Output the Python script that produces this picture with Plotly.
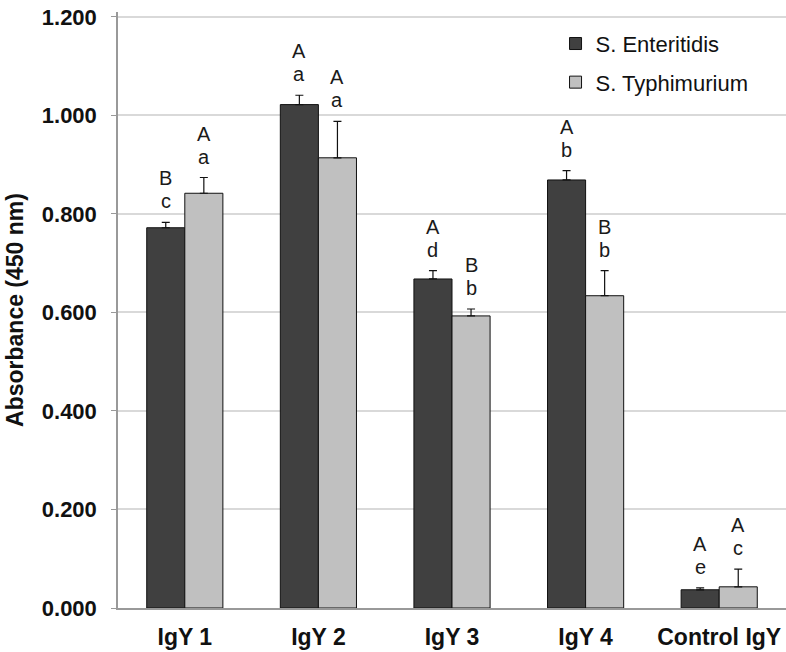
import plotly.graph_objects as go

categories = ["IgY 1", "IgY 2", "IgY 3", "IgY 4", "Control IgY"]
se_values = [0.772, 1.022, 0.668, 0.869, 0.037]
se_errors = [0.011, 0.019, 0.017, 0.019, 0.004]
st_values = [0.842, 0.914, 0.593, 0.634, 0.043]
st_errors = [0.032, 0.074, 0.014, 0.051, 0.036]
se_upper = ["B", "A", "A", "A", "A"]
se_lower = ["c", "a", "d", "b", "e"]
st_upper = ["A", "A", "B", "B", "A"]
st_lower = ["a", "a", "b", "b", "c"]
y_ticks = [0.0, 0.2, 0.4, 0.6, 0.8, 1.0, 1.2]

FONT = "Liberation Sans, Arial, sans-serif"
bargap = 0.43
half = (1 - bargap) / 4

fig = go.Figure()
fig.add_trace(go.Bar(
    x=categories, y=se_values, name="S. Enteritidis", legendgroup="se",
    marker=dict(color="#404040", line=dict(color="#111111", width=1)),
    error_y=dict(type="data", array=se_errors, symmetric=False,
                 arrayminus=[0]*len(se_errors), color="#111111", thickness=1.2, width=4),
))
fig.add_trace(go.Bar(
    x=categories, y=st_values, name="S. Typhimurium", legendgroup="st",
    marker=dict(color="#c0c0c0", line=dict(color="#111111", width=1)),
    error_y=dict(type="data", array=st_errors, symmetric=False,
                 arrayminus=[0]*len(st_errors), color="#111111", thickness=1.2, width=4),
))

annotations = []
for i in range(len(categories)):
    for vals, errs, up, lo, off in [
        (se_values, se_errors, se_upper, se_lower, -half),
        (st_values, st_errors, st_upper, st_lower, half),
    ]:
        top = vals[i] + errs[i]
        annotations.append(dict(x=i + off, y=top, xref="x", yref="y", text=lo[i],
                                showarrow=False, yanchor="bottom", yshift=9, borderpad=0,
                                font=dict(family=FONT, size=20, color="#1a1a1a")))
        annotations.append(dict(x=i + off, y=top, xref="x", yref="y", text=up[i],
                                showarrow=False, yanchor="bottom", yshift=32, borderpad=0,
                                font=dict(family=FONT, size=20, color="#1a1a1a")))

fig.update_layout(
    width=786, height=652,
    margin=dict(l=118, r=0, t=12, b=44),
    paper_bgcolor="white", plot_bgcolor="white",
    barmode="group", bargap=bargap, bargroupgap=0,
    font=dict(family=FONT, color="#111111"),
    showlegend=True,
    legend=dict(x=0.655, y=0.982, xanchor="left", yanchor="top",
                font=dict(family=FONT, size=22, color="#111111"),
                bgcolor="rgba(0,0,0,0)", itemwidth=30, tracegroupgap=7),
    annotations=annotations,
    xaxis=dict(showline=True, linecolor="#999999", linewidth=1.5, ticks="",
               ticklabelstandoff=8,
               tickfont=dict(family=FONT, size=23, color="#111111", weight="bold"),
               showgrid=False),
    yaxis=dict(range=[0, 1.21], tickvals=y_ticks, tickformat=".3f",
               showline=True, linecolor="#999999", linewidth=1.5,
               ticks="outside", ticklen=5, tickcolor="#999999",
               ticklabelstandoff=10,
               gridcolor="#d9d9d9", gridwidth=1.5,
               tickfont=dict(family=FONT, size=22, color="#111111", weight="bold"),
               title=dict(text="Absorbance (450 nm)", standoff=12,
                          font=dict(family=FONT, size=23, color="#111111", weight="bold"))),
)

fig.write_html("out.html", config={"displayModeBar": False},
               post_script="document.body.style.margin='0';document.body.style.overflow='hidden';")
